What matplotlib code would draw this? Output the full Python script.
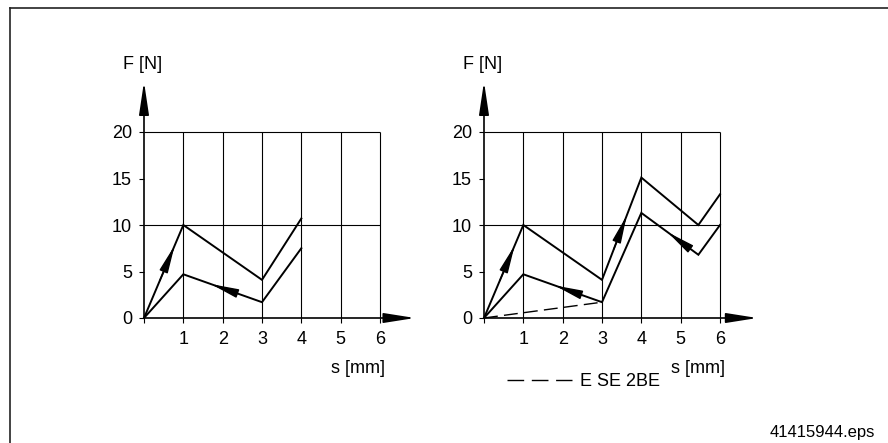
import matplotlib
matplotlib.use("Agg")
import matplotlib.pyplot as plt
from matplotlib.lines import Line2D
import numpy as np

plt.rcParams['font.family'] = ['Liberation Sans', 'DejaVu Sans']

# ---- data ----
s_left = [0, 1, 3, 4]
F_left_upper = [0, 10, 4.1, 10.7]
F_left_lower = [0, 4.7, 1.7, 7.5]

s_right = [0, 1, 3, 4, 5.45, 6]
F_right_upper = [0, 10, 4.1, 15.1, 10, 13.3]
F_right_lower = [0, 4.7, 1.7, 11.3, 6.8, 10]

s_dashed = [0, 3]
F_dashed = [0, 1.7]
dashed_label = "E SE 2BE"

x_ticks = [0, 1, 2, 3, 4, 5, 6]
x_ticklabels = ["", "1", "2", "3", "4", "5", "6"]
y_ticks = [0, 5, 10, 15, 20]
y_ticklabels = ["0", "5", "10", "15", "20"]
grid_y = [10, 20]
xlabel = "s [mm]"
ylabel = "F [N]"
file_label = "41415944.eps"

# arrows: (series key, segment index, t_tail, t_tip)
left_arrows = [("upper", 0, 0.40, 0.78), ("lower", 1, 0.68, 0.35)]
right_arrows = [("upper", 0, 0.40, 0.78), ("lower", 1, 0.68, 0.40),
                ("upper", 2, 0.30, 0.63), ("lower", 3, 0.82, 0.46)]

W, H = 888, 443
fig = plt.figure(figsize=(W / 100, H / 100), dpi=100)

FS = 13
LW_CURVE = 1.4
LW_GRID = 0.8
LW_AXIS = 1.2


def interp(xs, ys, seg, t):
    return (xs[seg] + t * (xs[seg + 1] - xs[seg]),
            ys[seg] + t * (ys[seg + 1] - ys[seg]))


def setup(ax, xs, up, lo, arrows, x_tip):
    ax.set_xlim(0, 6)
    ax.set_ylim(0, 20)
    for sp in ax.spines.values():
        sp.set_visible(False)
    ax.patch.set_visible(False)
    ax.set_xticks(x_ticks)
    ax.set_xticklabels(x_ticklabels, fontsize=FS)
    ax.set_yticks(y_ticks)
    ax.set_yticklabels(y_ticklabels, fontsize=FS)
    ax.tick_params(axis='x', direction='out', length=3.6, width=LW_GRID, pad=6)
    ax.tick_params(axis='y', direction='out', length=3.6, width=LW_GRID, pad=5)
    # grid
    ax.vlines(x_ticks[1:], 0, 20, colors='black', lw=LW_GRID, clip_on=False)
    ax.hlines(grid_y, 0, 6, colors='black', lw=LW_GRID, clip_on=False)
    # axes arrows
    ax.annotate('', xy=(0, 25.4), xytext=(0, 0), annotation_clip=False,
                arrowprops=dict(arrowstyle='-|>,head_length=20,head_width=3.0',
                                mutation_scale=1, lw=LW_AXIS, color='black',
                                shrinkA=0, shrinkB=0))
    ax.annotate('', xy=(x_tip, 0), xytext=(0, 0), annotation_clip=False,
                arrowprops=dict(arrowstyle='-|>,head_length=19,head_width=3.0',
                                mutation_scale=1, lw=LW_AXIS, color='black',
                                shrinkA=0, shrinkB=0))
    # curves
    ax.plot(xs, up, color='black', lw=LW_CURVE, clip_on=False, solid_joinstyle='miter')
    ax.plot(xs, lo, color='black', lw=LW_CURVE, clip_on=False, solid_joinstyle='miter')
    series = {"upper": up, "lower": lo}
    for key, seg, t0, t1 in arrows:
        ys = series[key]
        tail = interp(xs, ys, seg, t0)
        tip = interp(xs, ys, seg, t1)
        ax.annotate('', xy=tip, xytext=tail, annotation_clip=False,
                    arrowprops=dict(arrowstyle='-|>,head_length=17,head_width=2.7',
                                    mutation_scale=1, lw=1.0, color='black',
                                    shrinkA=0, shrinkB=0))
    # labels
    ax.text(-0.03, 27.3, ylabel, fontsize=FS, ha='center', va='center', clip_on=False)
    ax.text(6.12, -5.4, xlabel, fontsize=FS, ha='right', va='center', clip_on=False)


axL = fig.add_axes([144 / W, (H - 318) / H, 236 / W, 186 / H])
setup(axL, s_left, F_left_upper, F_left_lower, left_arrows, 6.89)

axR = fig.add_axes([484 / W, (H - 318) / H, 236 / W, 186 / H])
setup(axR, s_right, F_right_upper, F_right_lower, right_arrows, 6.95)
dl, = axR.plot(s_dashed, F_dashed, color='black', lw=1.0, dashes=(10, 4.5),
               clip_on=False, label=dashed_label)
leg = axR.legend(handles=[Line2D([], [], color='black', lw=1.0, dashes=(12, 5.5))],
                 labels=[dashed_label], loc='center left',
                 bbox_to_anchor=(23 / 236, (318 - 382) / 186), frameon=False,
                 borderpad=0, borderaxespad=0, handlelength=3.6,
                 handletextpad=0.45, fontsize=FS)

# footer text and frame
fig.text(875 / W, (H - 433) / H, file_label, fontsize=12, ha='right', va='center')
fig.add_artist(Line2D([9.5 / W, 1], [1 - 8 / H, 1 - 8 / H], color='#222222', lw=1.2,
                      transform=fig.transFigure))
fig.add_artist(Line2D([9.5 / W, 9.5 / W], [0, 1 - 8 / H], color='#222222', lw=1.2,
                      transform=fig.transFigure))

fig.savefig("out.png", dpi=100)
